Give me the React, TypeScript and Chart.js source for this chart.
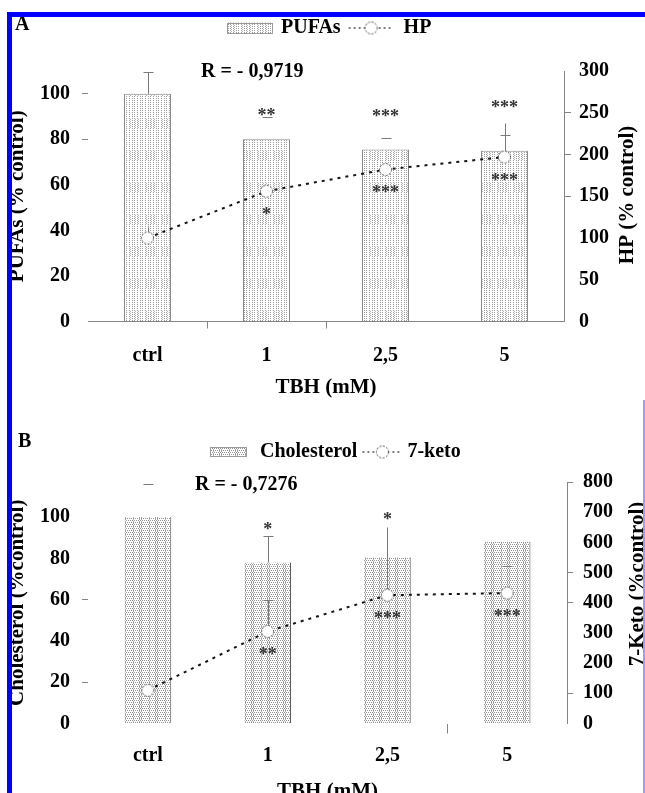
import React, { useEffect, useRef } from 'react';
import { Chart, registerables } from 'chart.js';

Chart.register(...registerables);

const FONT = '"Liberation Serif", "Times New Roman", serif';
const GRAY = '#858585';

// ---------- Panel A ----------
const categories = ['ctrl', '1', '2,5', '5'];
const pufas = [100, 80, 75.5, 75];
const pufasErr = [9.4, 10, 5, 6.8];
const hp = [100, 156, 182, 197];
const hpErr = [13, 0, 0, 41];
const pufasSig = ['', '**', '***', '***'];
const pufasSigLevel = [0, 91.5, 91, 95];
const hpSig = ['', '*', '***', '***'];
const rA = 'R = - 0,9719';
const pufasTickMarks = [100, 80];
const hpTickMarks = [250, 200, 150];

// ---------- Panel B ----------
const chol = [100, 78, 80.5, 88];
const cholErr = [16, 13, 0, 0];
const keto = [110, 305, 425, 432];
const ketoErr = [0, 105, 225, 90];
const cholSig = ['', '*', '*', ''];
const cholSigLevel = [0, 95, 100, 0];
const ketoSig = ['', '**', '***', '***'];
const rB = 'R = - 0,7276';
const cholTickMarks = [60, 20];
const ketoTickMarks = [800, 500, 400, 100];

function makePattern(kind: 'A' | 'B'): CanvasPattern {
  const c = document.createElement('canvas');
  c.width = 16;
  c.height = 32;
  const g = c.getContext('2d')!;
  g.fillStyle = '#fff';
  g.fillRect(0, 0, 16, 32);
  if (kind === 'A') {
    g.fillStyle = '#9c9c9c';
    for (const x of [1, 4, 6, 9, 12, 14]) for (let y = 0; y < 32; y += 2) g.fillRect(x, y, 1, 1);
    g.fillStyle = '#b5b5b5';
    for (let y = 22; y < 32; y += 2) for (const x of [2, 7, 10]) g.fillRect(x, y + 1, 1, 1);
  } else {
    g.fillStyle = '#939393';
    for (let y = 0; y < 32; y += 2) for (let x = 0; x < 16; x += 2) g.fillRect(x + ((y >> 1) % 2), y, 1, 1);
    g.fillStyle = '#b0b0b0';
    for (let y = 0; y < 32; y += 2) { g.fillRect(5, y + 1, 1, 1); g.fillRect(11, y + 1, 1, 1); g.fillRect(13, y + 1, 1, 1); }
  }
  return g.createPattern(c, 'repeat')!;
}

function makeMarker(): HTMLCanvasElement {
  const c = document.createElement('canvas');
  c.width = 15;
  c.height = 15;
  const g = c.getContext('2d')!;
  g.beginPath();
  g.arc(7.5, 7.5, 6, 0, Math.PI * 2);
  g.fillStyle = '#fff';
  g.fill();
  g.setLineDash([2, 1.5]);
  g.strokeStyle = '#4a4a4a';
  g.lineWidth = 1;
  g.stroke();
  return c;
}

const errorBarsPlugin = {
  id: 'errorBars',
  afterDatasetsDraw(chart: any, _a: any, o: any) {
    const ctx = chart.ctx as CanvasRenderingContext2D;
    (o.sets || []).forEach((set: any) => {
      const meta = chart.getDatasetMeta(set.dataset);
      const ds = chart.data.datasets[set.dataset];
      const scale = chart.scales[meta.yAxisID];
      ctx.save();
      ctx.strokeStyle = '#7a7a7a';
      ctx.lineWidth = 1;
      meta.data.forEach((el: any, i: number) => {
        const e = set.err[i];
        if (!e) return;
        const v = ds.data[i];
        const x = Math.round(el.x) + 0.5;
        const y0 = scale.getPixelForValue(v) - (meta.type === 'line' ? 6 : 0);
        const y1 = Math.round(scale.getPixelForValue(v + e)) + 0.5;
        ctx.beginPath();
        if (set.stem[i]) { ctx.moveTo(x, y0); ctx.lineTo(x, y1); }
        if (set.cap[i]) { ctx.moveTo(x - 5, y1); ctx.lineTo(x + 5, y1); }
        ctx.stroke();
      });
      ctx.restore();
    });
  },
};

const sigPlugin = {
  id: 'sig',
  afterDatasetsDraw(chart: any, _a: any, o: any) {
    const ctx = chart.ctx as CanvasRenderingContext2D;
    const barMeta = chart.getDatasetMeta(o.barDataset);
    const lineMeta = chart.getDatasetMeta(o.lineDataset);
    const yScale = chart.scales[barMeta.yAxisID];
    ctx.save();
    ctx.font = `bold 18px ${FONT}`;
    ctx.fillStyle = '#333';
    ctx.textAlign = 'center';
    ctx.textBaseline = 'middle';
    o.top.forEach((s: string, i: number) => {
      if (!s) return;
      ctx.fillText(s, barMeta.data[i].x, yScale.getPixelForValue(o.topAt[i]) + 3);
    });
    o.below.forEach((s: string, i: number) => {
      if (!s) return;
      const p = lineMeta.data[i];
      ctx.fillText(s, p.x, p.y + o.belowOffset + 3);
    });
    ctx.restore();
  },
};

const decorPlugin = {
  id: 'decor',
  afterDraw(chart: any, _a: any, o: any) {
    const ctx = chart.ctx as CanvasRenderingContext2D;
    ctx.save();
    ctx.fillStyle = '#000';
    ctx.textBaseline = 'middle';
    ctx.textAlign = 'left';
    ctx.font = `bold 20px ${FONT}`;
    ctx.fillText(o.letter, o.letterX, o.letterY);
    ctx.fillText(o.rText, o.rX, o.rY);

    // legend
    const L = o.legend;
    const barDs = chart.data.datasets[o.barDataset];
    const lineDs = chart.data.datasets[o.lineDataset];
    const w1 = ctx.measureText(barDs.label).width;
    const w2 = ctx.measureText(lineDs.label).width;
    const total = L.boxW + L.gap1 + w1 + L.gap2 + L.symW + L.gap3 + w2;
    let x = Math.round(o.legendCx - total / 2);
    const cy = o.legendY;
    ctx.fillStyle = barDs.backgroundColor;
    ctx.fillRect(x, cy - L.boxH / 2, L.boxW, L.boxH);
    ctx.strokeStyle = '#9a9a9a';
    ctx.lineWidth = 1;
    ctx.strokeRect(x + 0.5, Math.round(cy - L.boxH / 2) + 0.5, L.boxW - 1, L.boxH - 1);
    x += L.boxW + L.gap1;
    ctx.fillStyle = '#000';
    ctx.fillText(barDs.label, x, cy);
    x += w1 + L.gap2;
    ctx.save();
    ctx.strokeStyle = '#555';
    ctx.lineWidth = 1.5;
    ctx.setLineDash([2, 3]);
    ctx.beginPath();
    ctx.moveTo(x, cy);
    ctx.lineTo(x + L.symW, cy);
    ctx.stroke();
    ctx.restore();
    ctx.drawImage(lineDs.pointStyle, x + L.symW / 2 - 7.5, cy - 7.5);
    x += L.symW + L.gap3;
    ctx.fillText(lineDs.label, x, cy);

    // right axis title, reading bottom-to-top
    ctx.save();
    ctx.translate(o.rightTitleX, o.rightTitleY);
    ctx.rotate(-Math.PI / 2);
    ctx.textAlign = 'center';
    ctx.font = `bold 21px ${FONT}`;
    ctx.fillText(o.rightTitle, 0, 0);
    ctx.restore();
    ctx.restore();
  },
};

const tickFont = { family: FONT, size: 20, weight: 'bold' as const };
const titleFont = { family: FONT, size: 21, weight: 'bold' as const };

const valueMarks = (marks: number[]) => (c: any) =>
  c.tick && marks.includes(c.tick.value) ? GRAY : 'transparent';
const indexMarks = (idx: number[]) => (c: any) =>
  typeof c.index === 'number' && c.type === 'tick' && idx.includes(c.index) ? GRAY : 'transparent';

function makeConfig(p: any): any {
  return {
    type: 'bar',
    data: {
      labels: categories,
      datasets: [
        {
          type: 'line',
          label: p.lineLabel,
          data: p.line,
          yAxisID: 'y2',
          order: 0,
          borderColor: '#151515',
          borderWidth: 2,
          borderDash: [3, 5],
          pointStyle: p.marker,
          pointRadius: 6,
          fill: false,
          tension: 0,
        },
        {
          type: 'bar',
          label: p.barLabel,
          data: p.bars,
          yAxisID: 'y',
          order: 1,
          backgroundColor: p.barPattern,
          borderColor: p.barBorderColor,
          borderWidth: p.barBorderWidth,
          barPercentage: p.barPct,
          categoryPercentage: 1,
        },
      ],
    },
    options: {
      responsive: false,
      maintainAspectRatio: false,
      animation: false,
      events: [],
      layout: { padding: { top: p.padTop, left: 0, right: 0, bottom: 0 } },
      plugins: {
        legend: { display: false },
        tooltip: { enabled: false },
        errorBars: {
          sets: [
            { dataset: 1, err: p.barErr, stem: p.barStem, cap: p.barCap },
            { dataset: 0, err: p.lineErr, stem: p.lineStem, cap: p.lineCap },
          ],
        },
        sig: { barDataset: 1, lineDataset: 0, top: p.topSig, topAt: p.topSigAt, below: p.belowSig, belowOffset: 21 },
        decor: { ...p.decor, barDataset: 1, lineDataset: 0 },
      },
      scales: {
        x: {
          type: 'category',
          offset: true,
          grid: {
            display: true,
            drawOnChartArea: false,
            offset: true,
            tickLength: p.xTickLen,
            color: indexMarks(p.xTickIdx),
            tickColor: indexMarks(p.xTickIdx),
          },
          border: { display: p.xBorder, color: GRAY, width: 1 },
          ticks: { color: '#000', font: tickFont, padding: p.xLabelPad, maxRotation: 0 },
          title: {
            display: true,
            text: 'TBH (mM)',
            color: '#000',
            font: titleFont,
            padding: { top: 0, bottom: p.xTitlePadBottom },
          },
          afterFit: (s: any) => { s.height = p.xHeight; },
        },
        y: {
          position: 'left',
          min: 0,
          max: p.yMax,
          ticks: { stepSize: 20, color: '#000', font: tickFont, padding: 12 },
          afterBuildTicks: (s: any) => { s.ticks = s.ticks.filter((t: any) => t.value <= 100); },
          grid: {
            drawOnChartArea: false,
            tickLength: 6,
            color: valueMarks(p.yMarks),
            tickColor: valueMarks(p.yMarks),
          },
          border: { display: false },
          title: {
            display: true,
            text: p.yTitle,
            color: '#000',
            font: titleFont,
            padding: { top: 5, bottom: 0 },
          },
          afterFit: (s: any) => { s.width = 88; },
        },
        y2: {
          position: 'right',
          min: 0,
          max: p.y2Max,
          ticks: { stepSize: p.y2Step, color: '#000', font: tickFont, padding: p.y2LabelPad },
          grid: {
            drawOnChartArea: false,
            tickLength: p.y2TickLen,
            color: valueMarks(p.y2Marks),
            tickColor: valueMarks(p.y2Marks),
          },
          border: { display: true, color: GRAY, width: 1 },
          title: { display: false },
          afterFit: (s: any) => { s.width = p.y2Width; },
        },
      },
    },
    plugins: [errorBarsPlugin, sigPlugin, decorPlugin],
  };
}

export default function App() {
  const refA = useRef<HTMLCanvasElement>(null);
  const refB = useRef<HTMLCanvasElement>(null);

  useEffect(() => {
    const marker = makeMarker();
    const chartA = new Chart(
      refA.current!,
      makeConfig({
        padTop: 71,
        xHeight: 78.5,
        xBorder: true,
        xTickIdx: [1, 2],
        xTickLen: 7,
        xLabelPad: 15,
        xTitlePadBottom: 0,
        yMax: 110,
        yMarks: pufasTickMarks,
        yTitle: 'PUFAs (% control)',
        y2Max: 300,
        y2Step: 50,
        y2Marks: hpTickMarks,
        y2Width: 81,
        y2LabelPad: 8,
        y2TickLen: 7,
        barLabel: 'PUFAs',
        bars: pufas,
        barErr: pufasErr,
        barStem: [1, 0, 0, 1],
        barCap: [1, 1, 1, 1],
        barPattern: makePattern('A'),
        barBorderColor: '#8a8a8a',
        barBorderWidth: 1,
        barPct: 0.395,
        lineLabel: 'HP',
        line: hp,
        lineErr: hpErr,
        lineStem: [1, 0, 0, 1],
        lineCap: [0, 0, 0, 0],
        marker,
        topSig: pufasSig,
        topSigAt: pufasSigLevel,
        belowSig: hpSig,
        decor: {
          letter: 'A', letterX: 15, letterY: 25,
          rText: rA, rX: 201, rY: 72,
          legendCx: 329, legendY: 28,
          legend: { boxW: 46, boxH: 11, gap1: 8, gap2: 8, symW: 45, gap3: 10 },
          rightTitle: 'HP (% control)', rightTitleX: 628, rightTitleY: 195,
        },
      })
    );
    const chartB = new Chart(
      refB.current!,
      makeConfig({
        padTop: 82,
        xHeight: 86.5,
        xBorder: false,
        xTickIdx: [3],
        xTickLen: 10,
        xLabelPad: 10,
        xTitlePadBottom: 6,
        yMax: 117,
        yMarks: cholTickMarks,
        yTitle: 'Cholesterol (%control)',
        y2Max: 800,
        y2Step: 100,
        y2Marks: ketoTickMarks,
        y2Width: 78,
        y2LabelPad: 10,
        y2TickLen: 6,
        barLabel: 'Cholesterol',
        bars: chol,
        barErr: cholErr,
        barStem: [0, 1, 0, 0],
        barCap: [1, 1, 0, 0],
        barPattern: makePattern('B'),
        barBorderColor: '#555',
        barBorderWidth: { top: 0, left: 0, bottom: 0, right: 1 },
        barPct: 0.39,
        lineLabel: '7-keto',
        line: keto,
        lineErr: ketoErr,
        lineStem: [0, 1, 1, 0],
        lineCap: [0, 1, 0, 1],
        marker,
        topSig: cholSig,
        topSigAt: cholSigLevel,
        belowSig: ketoSig,
        decor: {
          letter: 'B', letterX: 18, letterY: 42,
          rText: rB, rX: 195, rY: 85,
          legendCx: 335, legendY: 52,
          legend: { boxW: 37, boxH: 10, gap1: 13, gap2: 5, symW: 40, gap3: 5 },
          rightTitle: '7-Keto (%control)', rightTitleX: 638, rightTitleY: 184,
        },
      })
    );
    return () => {
      chartA.destroy();
      chartB.destroy();
    };
  }, []);

  return (
    <div
      style={{
        position: 'absolute',
        left: 0,
        top: 0,
        width: 645,
        height: 793,
        overflow: 'hidden',
        background: '#fff',
      }}
    >
      <canvas ref={refA} width={645} height={400} style={{ position: 'absolute', left: 0, top: 0 }} />
      <canvas ref={refB} width={645} height={410} style={{ position: 'absolute', left: 0, top: 400 }} />
      <div style={{ position: 'absolute', left: 7, top: 12, width: 638, height: 5, background: '#0000ff' }} />
      <div style={{ position: 'absolute', left: 7, top: 12, width: 5, height: 781, background: '#0000ff' }} />
      <div style={{ position: 'absolute', left: 643, top: 400, width: 2, height: 393, background: '#9a9aff' }} />
    </div>
  );
}
